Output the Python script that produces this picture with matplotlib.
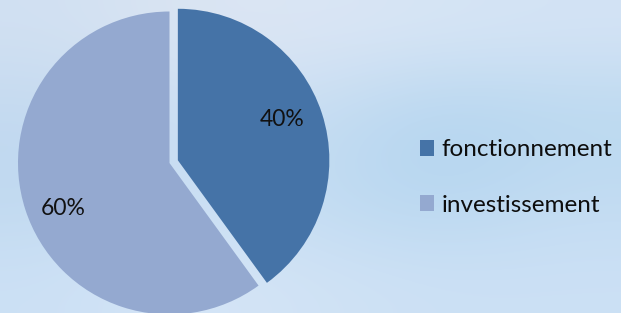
import numpy as np
import matplotlib
matplotlib.use('Agg')
import matplotlib.pyplot as plt

categories = ['fonctionnement', 'investissement']
shares = [40, 60]
colors = ['#4573A7', '#94A9D0']

# soft blue backdrop (decorative only)
bg = np.array([
    [[0.82, 0.88, 0.95], [0.86, 0.90, 0.95], [0.86, 0.90, 0.96], [0.84, 0.90, 0.96], [0.83, 0.89, 0.96]],
    [[0.76, 0.85, 0.94], [0.80, 0.87, 0.95], [0.78, 0.87, 0.95], [0.70, 0.83, 0.94], [0.73, 0.85, 0.94]],
    [[0.75, 0.85, 0.94], [0.80, 0.88, 0.96], [0.76, 0.86, 0.95], [0.71, 0.84, 0.94], [0.76, 0.86, 0.95]],
    [[0.80, 0.88, 0.96], [0.84, 0.90, 0.97], [0.82, 0.89, 0.96], [0.80, 0.88, 0.96], [0.80, 0.88, 0.96]],
])

fig = plt.figure(figsize=(6.21, 3.13), dpi=100)
ax_bg = fig.add_axes([0, 0, 1, 1])
ax_bg.imshow(bg, aspect='auto', interpolation='bicubic', extent=[0, 1, 0, 1])
ax_bg.set_axis_off()

W, H = 621.0, 313.0
cx, cy, r = 169.5, 313 - 163, 151.5
ax = fig.add_axes([(cx - r) / W, (cy - r) / H, 2 * r / W, 2 * r / H])
wedges, texts, autotexts = ax.pie(
    shares, colors=colors, startangle=90, counterclock=False,
    explode=[0.058, 0], autopct='%1.0f%%', pctdistance=0.75,
    wedgeprops=dict(linewidth=0), textprops=dict(fontsize=16.5, family='Lato', color='#111111'))
# excel "best fit" label spots
autotexts[0].set_position((0.745, 0.29))
autotexts[1].set_position((-0.70, -0.30))
ax.set_xlim(-1, 1)
ax.set_ylim(-1, 1)
ax.set_aspect('equal')
ax.set_axis_off()
for w in wedges:
    w.set_clip_on(False)

leg = fig.legend(wedges, categories, loc='center left', bbox_to_anchor=(398 / W, 1 - 177.5 / H),
                 frameon=False, prop=dict(family='Lato', size=17.5),
                 handlelength=0.6, handleheight=0.6, handletextpad=0.3, labelspacing=1.4)
for t in leg.get_texts():
    t.set_color('#0d0d0d')

fig.savefig('out.png', dpi=100)
